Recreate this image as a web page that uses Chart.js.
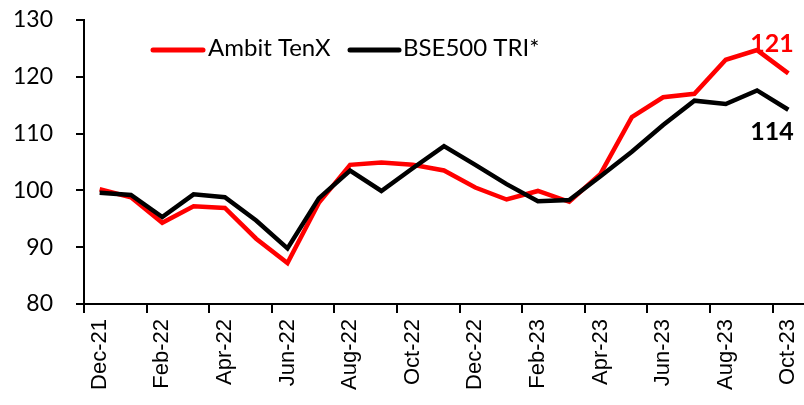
<!DOCTYPE html>
<html>
<head>
<meta charset="utf-8">
<script src="https://cdn.jsdelivr.net/npm/chart.js@4"></script>
<style>
  html, body { margin: 0; padding: 0; background: #fff; }
  #wrap { width: 804px; height: 405px; }
</style>
</head>
<body>
<div id="wrap"><canvas id="myChart" width="804" height="405"></canvas></div>
<script>
// Months on the x axis
var months = ['Dec-21', 'Jan-22', 'Feb-22', 'Mar-22', 'Apr-22', 'May-22', 'Jun-22', 'Jul-22',
  'Aug-22', 'Sep-22', 'Oct-22', 'Nov-22', 'Dec-22', 'Jan-23', 'Feb-23', 'Mar-23',
  'Apr-23', 'May-23', 'Jun-23', 'Jul-23', 'Aug-23', 'Sep-23', 'Oct-23'];

// Series values (rebased to 100)
var ambitTenX = [100.2, 98.8, 94.3, 97.2, 96.9, 91.5, 87.2, 97.8, 104.5, 104.9, 104.5, 103.5,
  100.5, 98.4, 99.9, 98.0, 102.9, 112.9, 116.4, 117.0, 123.0, 124.7, 120.6];
var bse500Tri = [99.6, 99.2, 95.3, 99.3, 98.8, 94.7, 89.8, 98.6, 103.5, 99.9, 103.9, 107.8,
  104.5, 101.1, 98.1, 98.3, 102.5, 106.8, 111.5, 115.8, 115.2, 117.6, 114.2];

// Y tick values
var yTicks = [80, 90, 100, 110, 120, 130];

// End-of-series labels
var endLabels = ['121', '114'];

// Draw the legend and the end labels inside the plot
var overlayPlugin = {
  id: 'overlay',
  afterDraw: function(chart) {
    var ctx = chart.ctx;
    ctx.save();
    // legend
    ctx.lineWidth = 5;
    ctx.lineCap = 'round';
    ctx.strokeStyle = '#ff0000';
    ctx.beginPath(); ctx.moveTo(153, 50); ctx.lineTo(203, 50); ctx.stroke();
    ctx.strokeStyle = '#000';
    ctx.beginPath(); ctx.moveTo(350, 50); ctx.lineTo(399, 50); ctx.stroke();
    ctx.fillStyle = '#000';
    ctx.font = '24px Lato';
    ctx.textBaseline = 'middle';
    ctx.textAlign = 'left';
    ctx.fillText('Ambit TenX', 208, 48);
    ctx.fillText('BSE500 TRI*', 403, 48);

    // end labels
    ctx.font = 'bold 25px Lato';
    ctx.textAlign = 'center';
    ctx.fillStyle = '#ff0000';
    ctx.fillText(endLabels[0], 772, 44);
    ctx.fillStyle = '#000';
    ctx.fillText(endLabels[1], 772, 132);
    ctx.restore();
  }
};

var ctx = document.getElementById('myChart').getContext('2d');
var myChart = new Chart(ctx, {
  type: 'line',
  data: {
    labels: months,
    datasets: [
      {
        label: 'Ambit TenX',
        data: ambitTenX,
        borderColor: '#ff0000',
        backgroundColor: '#ff0000',
        borderWidth: 4.5,
        pointRadius: 0,
        tension: 0,
        order: 1
      },
      {
        label: 'BSE500 TRI*',
        data: bse500Tri,
        borderColor: '#000000',
        backgroundColor: '#000000',
        borderWidth: 4.5,
        pointRadius: 0,
        tension: 0,
        order: 0
      }
    ]
  },
  options: {
    responsive: false,
    animation: false,
    layout: { padding: { top: 20, right: 0, bottom: 0, left: 0 } },
    plugins: {
      legend: { display: false },
      tooltip: { enabled: false }
    },
    scales: {
      x: {
        offset: true,
        grid: {
          offset: true,
          drawOnChartArea: false,
          tickLength: 9,
          lineWidth: 2,
          color: function(c) { return c.index % 2 === 0 ? '#000' : 'rgba(0,0,0,0)'; }
        },
        border: { display: true, color: '#000', width: 2 },
        ticks: {
          autoSkip: false,
          maxRotation: 90,
          minRotation: 90,
          padding: 6,
          color: '#000',
          font: { family: 'Liberation Sans', size: 22 },
          callback: function(v, i) { return i % 2 === 0 ? months[i] : ''; }
        },
        afterFit: function(scale) {
          scale.height = 101;
          scale.paddingLeft = 0;
          scale.paddingRight = 0;
        }
      },
      y: {
        min: yTicks[0],
        max: yTicks[yTicks.length - 1],
        afterBuildTicks: function(scale) {
          scale.ticks = yTicks.map(function(v) { return { value: v }; });
        },
        grid: {
          drawOnChartArea: false,
          tickLength: 8,
          lineWidth: 2,
          color: '#000'
        },
        border: { display: true, color: '#000', width: 2 },
        ticks: {
          padding: 23,
          color: '#000',
          font: { family: 'Lato', size: 23 }
        },
        afterFit: function(scale) {
          scale.width = 84;
          scale.paddingTop = 0;
          scale.paddingBottom = 0;
        }
      }
    }
  },
  plugins: [overlayPlugin]
});
</script>
</body>
</html>
